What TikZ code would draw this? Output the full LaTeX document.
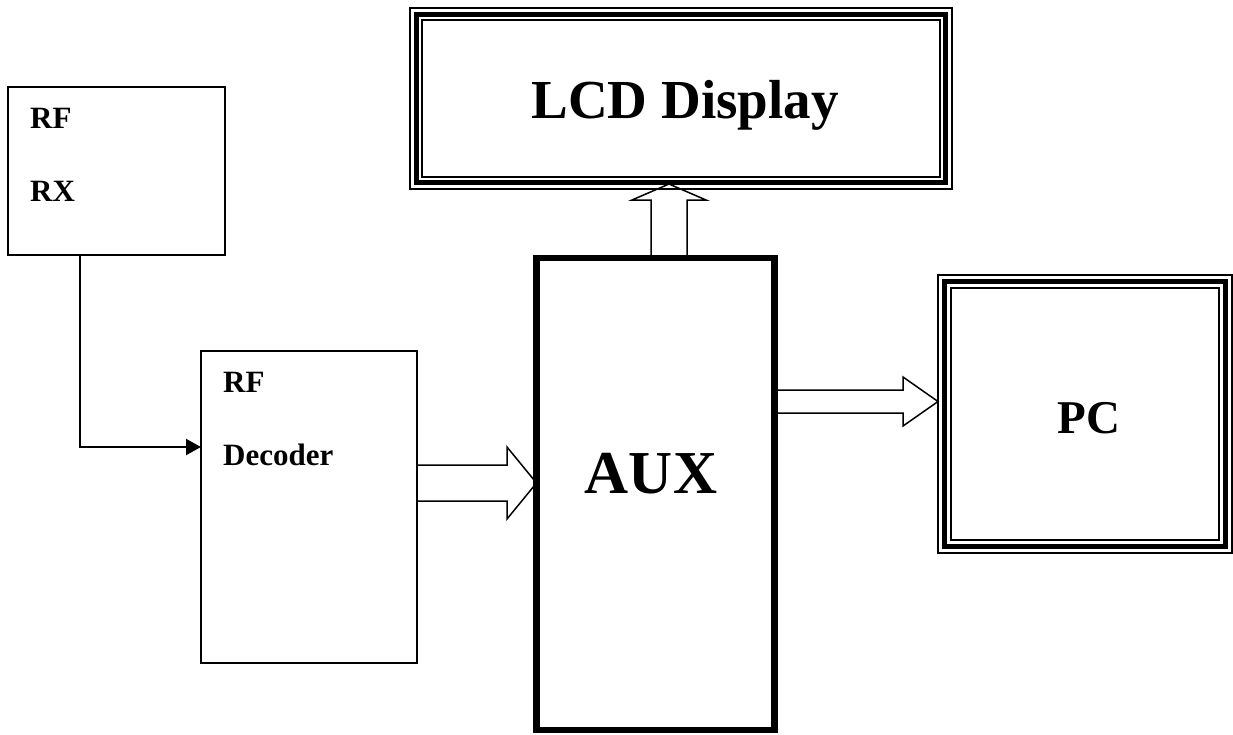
\documentclass[tikz,border=0pt]{standalone}
\usepackage{fontspec}
\setmainfont{Liberation Serif}
\usetikzlibrary{arrows.meta}

\tikzset{
  box/.style={draw, line width=2pt, outer sep=0pt, inner sep=0pt},
  auxbox/.style={draw, line width=6.5pt, outer sep=0pt, inner sep=0pt},
  framebox/.style={draw, line width=1.5pt, outer sep=0pt, inner sep=0pt},
  smalltext/.style={font=\fontsize{31}{37}\selectfont\bfseries, inner sep=0pt, anchor=base west},
  bigtext/.style={font=\fontsize{#1}{#1}\selectfont\bfseries, inner sep=0pt, anchor=base},
  blockarrow/.style={draw, line width=1.5pt, line join=miter},
}

% extra lines of the triple frame
\newcommand{\frameline}[3]{%
  \draw[line width=#3] ([shift={(#2,#2)}]#1.north west) rectangle ([shift={(-#2,-#2)}]#1.south east);}

\begin{document}
\begin{tikzpicture}[x=1pt,y=-1pt]
  \useasboundingbox (0,0) rectangle (1233,734);

  % blocks
  \node[box, minimum width=217pt, minimum height=168pt] (rx) at (116.5,171) {};
  \node[box, minimum width=216pt, minimum height=312pt] (dec) at (309,507) {};
  \node[auxbox, minimum width=238pt, minimum height=472pt] (aux) at (655.5,494) {};
  \node[framebox, minimum width=542pt, minimum height=181pt] (lcd) at (681,98.5) {};
  \node[framebox, minimum width=294pt, minimum height=278pt] (pc) at (1085,414) {};
  \frameline{lcd}{6.5}{5pt}
  \frameline{lcd}{12}{1.5pt}
  \frameline{pc}{6.5}{5pt}
  \frameline{pc}{13}{1.5pt}

  % labels
  \node[smalltext] (rxa) at (30,128) {RF};
  \node[smalltext] (rxb) at (30,201) {RX};
  \node[smalltext] (deca) at (223,392) {RF};
  \node[smalltext] (decb) at (223,465) {Decoder};
  \node[bigtext=55] (lcdtext) at (685,118) {LCD Display};
  \node[bigtext=61] (auxtext) at (651,493) {AUX};
  \node[bigtext=47] (pctext) at (1089,433) {PC};

  % connectors
  \draw[line width=2pt, -{Triangle[length=15pt,width=16pt]}]
    (rx.south -| 80,0) |- (dec.west |- 0,447);
  \draw[blockarrow] (dec.east |- 0,465) -- (507,465) -- (507,447)
    -- (aux.west |- 0,483) -- (507,519) -- (507,501) -- (dec.east |- 0,501);
  \draw[blockarrow] (aux.east |- 0,390) -- (903,390) -- (903,377)
    -- (pc.west |- 0,401.5) -- (903,426) -- (903,413) -- (aux.east |- 0,413);
  \draw[blockarrow] (aux.north -| 651,0) -- (651,200) -- (632,200)
    -- (669,184) -- (706,200) -- (687,200) -- (aux.north -| 687,0);
\end{tikzpicture}
\end{document}
